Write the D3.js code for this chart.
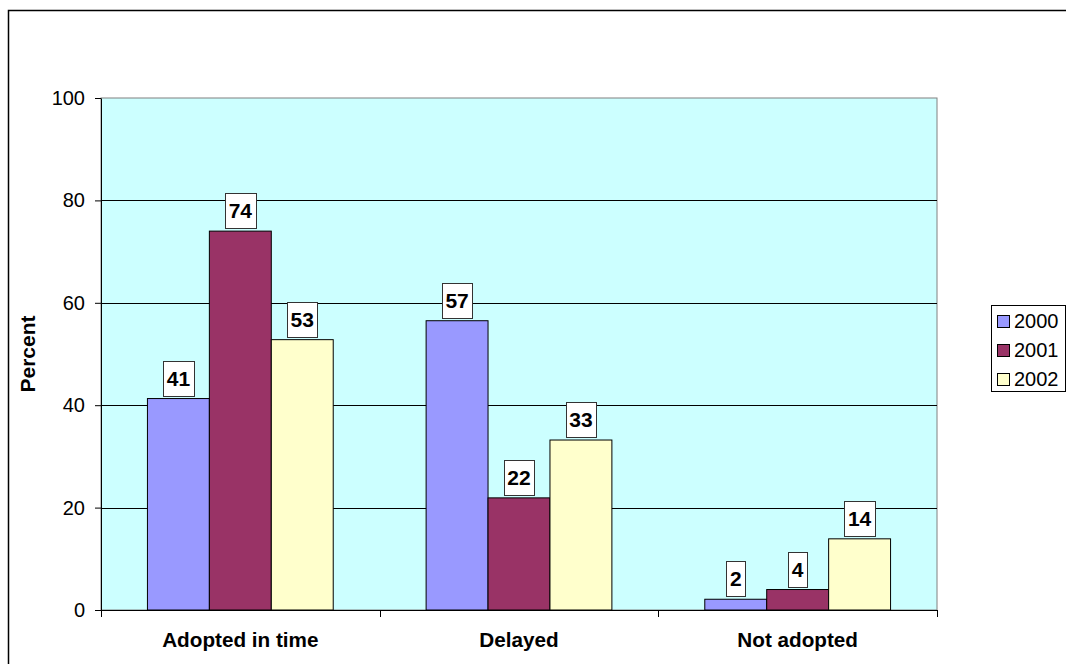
<!DOCTYPE html>
<html>
<head>
<meta charset="utf-8">
<script src="https://cdn.jsdelivr.net/npm/d3@7"></script>
<style>
  html, body { margin: 0; padding: 0; background: #fff; }
  svg { display: block; font-family: "Liberation Sans", Arial, sans-serif; }
</style>
</head>
<body>
<svg id="chart" width="1066" height="664"></svg>
<script>
const categories = ["Adopted in time", "Delayed", "Not adopted"];
const seriesNames = ["2000", "2001", "2002"];
const values2000 = [41.3, 56.5, 2.1];
const values2001 = [74.0, 21.9, 4.0];
const values2002 = [52.8, 33.2, 13.9];
const labels2000 = ["41", "57", "2"];
const labels2001 = ["74", "22", "4"];
const labels2002 = ["53", "33", "14"];
const yTicks = [0, 20, 40, 60, 80, 100];
const colors = ["#9999FF", "#993366", "#FFFFCC"];

const seriesValues = [values2000, values2001, values2002];
const seriesLabels = [labels2000, labels2001, labels2002];

const svg = d3.select("#chart");

// outer chart frame (extends past window on right/bottom)
svg.append("rect")
  .attr("x", 8.5).attr("y", 10.5)
  .attr("width", 1100).attr("height", 700)
  .attr("fill", "#fff").attr("stroke", "#000").attr("stroke-width", 1.5);

const plot = { left: 101, right: 937, top: 98, bottom: 610 };

const y = d3.scaleLinear().domain([0, 100]).range([plot.bottom, plot.top]);
const x0 = d3.scaleBand().domain(categories).range([plot.left, plot.right]).padding(0);
const x1 = d3.scaleBand().domain(seriesNames).range([0, x0.bandwidth()])
  .paddingInner(0).paddingOuter(0.75);

// plot area background
svg.append("rect")
  .attr("x", plot.left).attr("y", plot.top)
  .attr("width", plot.right - plot.left).attr("height", plot.bottom - plot.top)
  .attr("fill", "#CCFFFF").attr("stroke", "#808080").attr("stroke-width", 1);

// gridlines
svg.append("g").selectAll("line")
  .data(yTicks.filter(t => t > 0 && t < 100))
  .join("line")
  .attr("x1", plot.left).attr("x2", plot.right)
  .attr("y1", d => Math.round(y(d)) + 0.5).attr("y2", d => Math.round(y(d)) + 0.5)
  .attr("stroke", "#000").attr("stroke-width", 1);

// bars
const flat = [];
categories.forEach((c, ci) => {
  seriesNames.forEach((s, si) => {
    flat.push({ cat: c, ser: s, si, v: seriesValues[si][ci], label: seriesLabels[si][ci] });
  });
});

svg.append("g").selectAll("rect")
  .data(flat)
  .join("rect")
  .attr("x", d => x0(d.cat) + x1(d.ser))
  .attr("y", d => y(d.v))
  .attr("width", x1.bandwidth())
  .attr("height", d => y(0) - y(d.v))
  .attr("fill", d => colors[d.si])
  .attr("stroke", "#000").attr("stroke-width", 1);

// y axis
const yAxis = d3.axisLeft(y).tickValues(yTicks).tickSizeInner(6).tickSizeOuter(0).tickPadding(10);
const gy = svg.append("g").attr("transform", `translate(${plot.left},0)`).call(yAxis);
gy.select(".domain").attr("stroke", "#000");
gy.selectAll(".tick line").attr("stroke", "#000");
gy.selectAll(".tick text").attr("font-size", 20).attr("fill", "#000")
  .attr("font-family", "'Liberation Sans', Arial, sans-serif");

// x axis
const xAxis = d3.axisBottom(x0).tickSize(0).tickPadding(0);
const gx = svg.append("g").attr("transform", `translate(0,${plot.bottom})`).call(xAxis);
gx.select(".domain").attr("stroke", "#000");
gx.selectAll(".tick text")
  .attr("font-size", 20.7).attr("font-weight", "bold").attr("fill", "#000")
  .attr("font-family", "'Liberation Sans', Arial, sans-serif")
  .attr("dy", null).attr("y", 37);
// boundary tick marks
const bounds = categories.map(c => x0(c)).concat([plot.right]);
gx.append("g").selectAll("line").data(bounds).join("line")
  .attr("x1", d => Math.round(d) + 0.5).attr("x2", d => Math.round(d) + 0.5)
  .attr("y1", 0).attr("y2", 7).attr("stroke", "#000");

// data labels
const lg = svg.append("g");
flat.forEach(d => {
  const cx = x0(d.cat) + x1(d.ser) + x1.bandwidth() / 2;
  const top = y(d.v);
  const g = lg.append("g");
  const t = g.append("text")
    .attr("x", cx)
    .attr("text-anchor", "middle")
    .attr("font-size", 21).attr("font-weight", "bold").attr("fill", "#000")
    .text(d.label);
  const w = t.node().getBBox().width + 7;
  const h = 35;
  const by = top - 3 - h;
  g.insert("rect", "text")
    .attr("x", Math.round(cx - w / 2) + 0.5).attr("y", Math.round(by) + 0.5)
    .attr("width", Math.round(w)).attr("height", h)
    .attr("fill", "#fff").attr("stroke", "#333").attr("stroke-width", 1);
  t.attr("y", by + h / 2 + 7.5);
});

// y axis title
svg.append("text")
  .attr("transform", `translate(35,${(plot.top + plot.bottom) / 2}) rotate(-90)`)
  .attr("text-anchor", "middle")
  .attr("font-size", 21).attr("font-weight", "bold").attr("fill", "#000")
  .text("Percent");

// legend
const leg = svg.append("g");
leg.append("rect")
  .attr("x", 991.5).attr("y", 305.5).attr("width", 74).attr("height", 86)
  .attr("fill", "#fff").attr("stroke", "#000").attr("stroke-width", 1);
const legY = d3.scalePoint().domain(seriesNames).range([321, 378.5]);
seriesNames.forEach((s, i) => {
  leg.append("rect")
    .attr("x", 997.5).attr("y", Math.round(legY(s) - 6) + 0.5)
    .attr("width", 12).attr("height", 12)
    .attr("fill", colors[i]).attr("stroke", "#000").attr("stroke-width", 1);
  leg.append("text")
    .attr("x", 1014).attr("y", legY(s) + 7)
    .attr("font-size", 20).attr("fill", "#000")
    .text(s);
});
</script>
</body>
</html>
